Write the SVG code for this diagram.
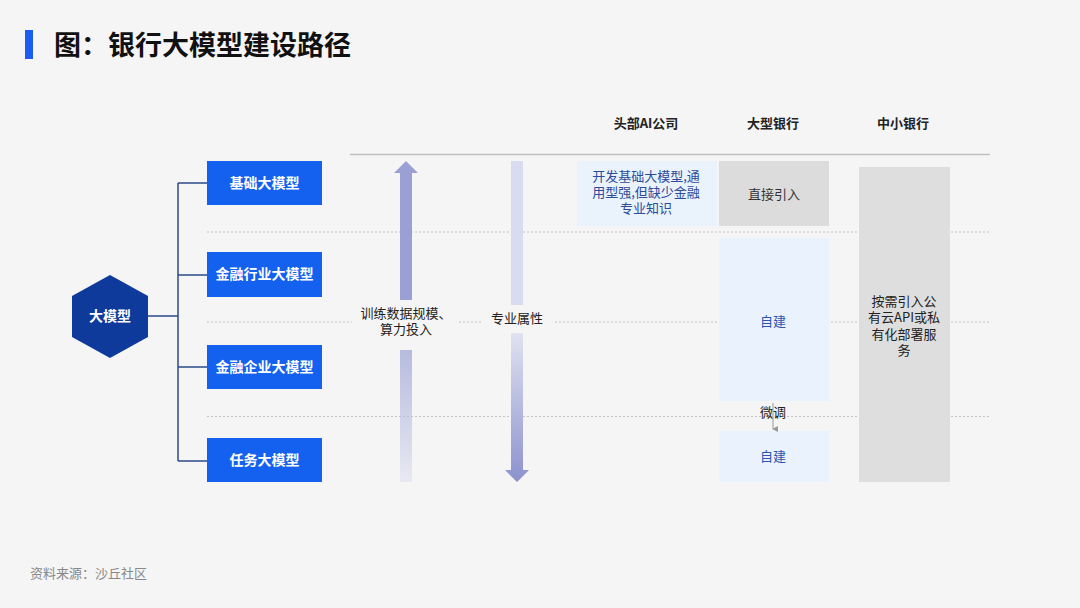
<svg xmlns="http://www.w3.org/2000/svg" width="1080" height="608" viewBox="0 0 1080 608">
<defs>
<style>
text{font-family:"Noto Sans CJK SC","Noto Sans",sans-serif;}
.t{font-size:13px;text-anchor:middle;}
.box{fill:#1561ef;}
.wt{fill:#ffffff;font-size:14px;font-weight:bold;text-anchor:middle;}
.dash{stroke:#c4c4c4;stroke-width:1;stroke-dasharray:2 2;fill:none;}
.tree{stroke:#2c4a8a;stroke-width:1.5;fill:none;}
.hd{font-size:13px;font-weight:bold;text-anchor:middle;fill:#222;}
</style>
<linearGradient id="gUp" x1="0" y1="0" x2="0" y2="1">
<stop offset="0" stop-color="#8d94cf"/>
<stop offset="1" stop-color="#dfe1f0"/>
</linearGradient>
<linearGradient id="gDown" x1="0" y1="0" x2="0" y2="1">
<stop offset="0" stop-color="#e0e2f0"/>
<stop offset="1" stop-color="#8b92cd"/>
</linearGradient>
<marker id="sm" markerWidth="6" markerHeight="6" refX="3" refY="5" orient="auto" markerUnits="userSpaceOnUse" viewBox="0 0 6 6">
<path d="M0,0 L6,0 L3,6 Z" fill="#999"/>
</marker>
</defs>
<rect width="1080" height="608" fill="#f5f5f5"/>
<rect x="25" y="30" width="8" height="29" fill="#1a5ef0"/>
<text x="54" y="55" font-size="27" font-weight="bold" fill="#111">图：银行大模型建设路径</text>

<g id="grid">
<line x1="350" y1="154.5" x2="990" y2="154.5" stroke="#c0c0c0" stroke-width="1.5"/>
<line class="dash" x1="207" y1="232" x2="990" y2="232"/>
<line class="dash" x1="207" y1="322" x2="990" y2="322"/>
<line class="dash" x1="207" y1="416.5" x2="990" y2="416.5"/>
</g>

<g id="headers">
<text class="hd" x="646" y="128">头部AI公司</text>
<text class="hd" x="773" y="128">大型银行</text>
<text class="hd" x="903" y="128">中小银行</text>
</g>

<g id="connectors">
<path class="tree" d="M148,316 H178 M178,183 V461 M178,183 H207 M178,275 H207 M178,367 H207 M178,461 H207"/>
</g>

<g id="n-root">
<polygon points="110,275 148,296 148,337 110,358 72,337 72,296" fill="#0e3a9c"/>
<text class="wt" x="110" y="321">大模型</text>
</g>
<g id="n-jichu">
<rect class="box" x="207" y="161" width="115" height="44"/>
<text class="wt" x="264.5" y="188">基础大模型</text>
</g>
<g id="n-hangye">
<rect class="box" x="207" y="252" width="115" height="45"/>
<text class="wt" x="264.5" y="279">金融行业大模型</text>
</g>
<g id="n-qiye">
<rect class="box" x="207" y="345" width="115" height="44"/>
<text class="wt" x="264.5" y="372">金融企业大模型</text>
</g>
<g id="n-renwu">
<rect class="box" x="207" y="438" width="115" height="44"/>
<text class="wt" x="264.5" y="465">任务大模型</text>
</g>

<g id="arrow-up">
<path d="M406,161 L418,173 L412,173 L412,300 L400,300 L400,173 L394,173 Z" fill="#9aa0d4"/>
<rect x="400" y="350" width="12" height="132" fill="url(#gUp)" opacity="0.6"/>
<rect x="352" y="304" width="106" height="40" fill="#f5f5f5"/>
<text class="t" x="406" y="318" fill="#222">训练数据规模、</text>
<text class="t" x="406" y="334" fill="#222">算力投入</text>
</g>
<g id="arrow-down">
<rect x="511" y="161" width="12" height="144" fill="#d9dbee"/>
<path d="M511,333 L523,333 L523,470 L529,470 L517,482 L505,470 L511,470 Z" fill="url(#gDown)"/>
<rect x="482" y="309" width="72" height="20" fill="#f5f5f5"/>
<text class="t" x="517" y="323" fill="#222">专业属性</text>
</g>

<g id="n-ai">
<rect x="577" y="161" width="140" height="65" fill="#eaf2fc"/>
<text class="t" x="646" y="181" font-size="12" fill="#2b4b9b">开发基础大模型,通</text>
<text class="t" x="646" y="197" font-size="12" fill="#2b4b9b">用型强,但缺少金融</text>
<text class="t" x="646" y="213" font-size="12" fill="#2b4b9b">专业知识</text>
</g>
<g id="n-direct">
<rect x="719" y="161" width="110" height="65" fill="#dcdcdc"/>
<text class="t" x="774" y="199" fill="#333">直接引入</text>
</g>
<g id="n-zijian1">
<rect x="719" y="238" width="110" height="163" fill="#eaf3fd"/>
<text class="t" x="773" y="326" fill="#2b55ad">自建</text>
</g>
<g id="n-zijian2">
<rect x="719" y="431" width="110" height="51" fill="#eaf3fd"/>
<text class="t" x="773" y="461" fill="#2b55ad">自建</text>
</g>
<g id="finetune">
<line x1="773" y1="403" x2="773" y2="429" stroke="#999" stroke-width="1" marker-end="url(#sm)"/>
<text class="t" x="773" y="417" fill="#222">微调</text>
</g>
<g id="n-small">
<rect x="859" y="167" width="91" height="315" fill="#dedede"/>
<text class="t" x="904" y="306" fill="#222">按需引入公</text>
<text class="t" x="904" y="322" fill="#222">有云API或私</text>
<text class="t" x="904" y="339" fill="#222">有化部署服</text>
<text class="t" x="904" y="355" fill="#222">务</text>
</g>

<text x="30" y="578" font-size="13" fill="#888">资料来源：沙丘社区</text>
</svg>
